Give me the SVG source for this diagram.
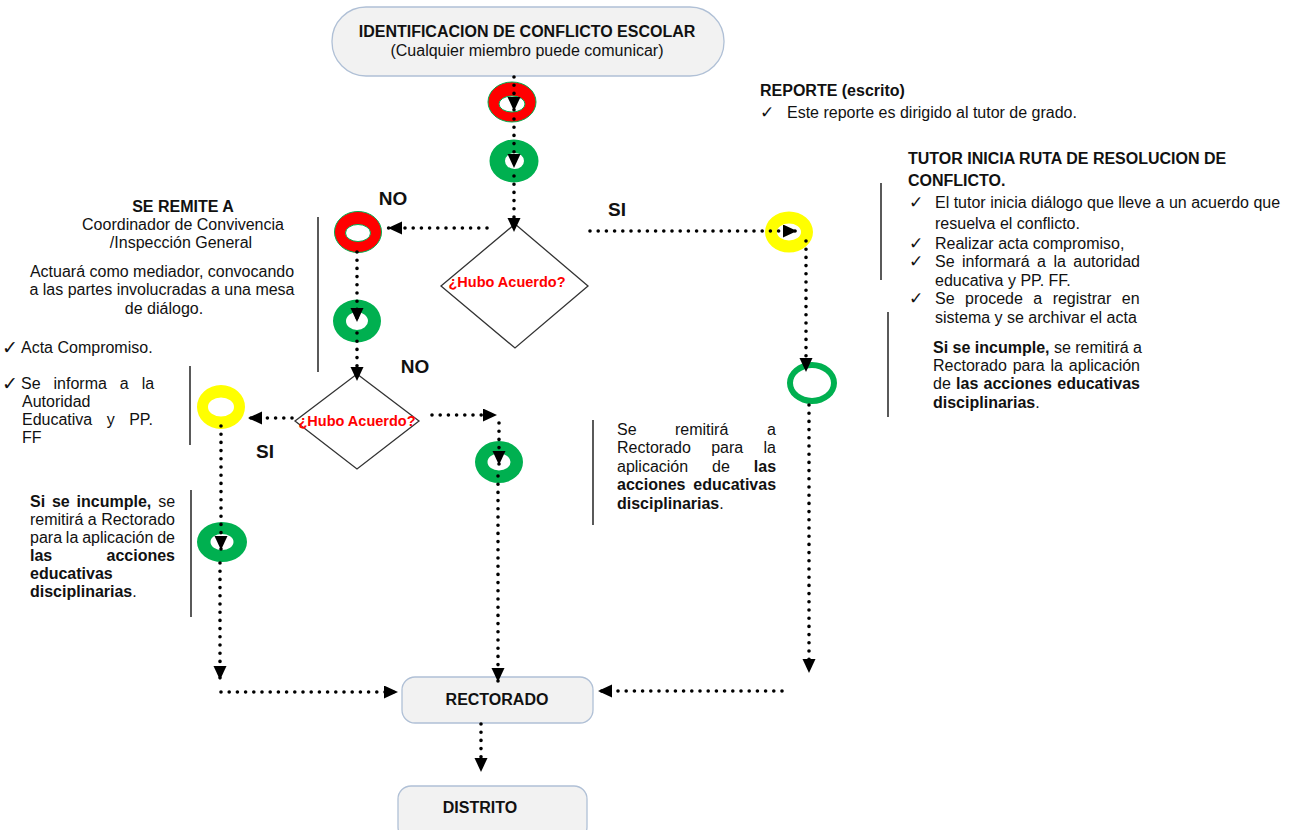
<svg xmlns="http://www.w3.org/2000/svg" width="1293" height="830" viewBox="0 0 1293 830">
<defs>
<marker id="ah" markerUnits="userSpaceOnUse" markerWidth="16" markerHeight="14" refX="14" refY="6.5" orient="auto"><path d="M0,0 L14,6.5 L0,13 Z" fill="#000"/></marker>
<style>
.dot{fill:none;stroke:#000;stroke-width:3.6;stroke-linecap:round;stroke-dasharray:0 8.2;marker-end:url(#ah)}
.box{fill:#f2f2f2;stroke:#b0c0d6;stroke-width:1.3}
.t{font-family:"Liberation Sans",Arial,sans-serif;font-size:16px;fill:#111}
.b{font-weight:bold}
.q{font-family:"Liberation Sans",Arial,sans-serif;font-size:14.5px;font-weight:bold;fill:#ff0000}
.lbl{font-family:"Liberation Sans",Arial,sans-serif;font-size:19px;font-weight:bold;fill:#111}
.dia{fill:#fff;stroke:#333;stroke-width:1.3}
.red{fill:#ff0000;stroke:#00b050;stroke-width:1;fill-rule:evenodd}
.grn{fill:#00b050;fill-rule:evenodd}
.yel{fill:#ffff00;fill-rule:evenodd}
.vl{stroke:#000;stroke-width:1.3}
.ck{font-family:"DejaVu Sans",sans-serif;font-size:17px;fill:#111}
.ck2{font-family:"DejaVu Sans",sans-serif;font-size:19px;fill:#111}
</style>
</defs>
<rect width="1293" height="830" fill="#fff"/>

<g id="n-inicio">
<rect class="box" x="332" y="7" width="392" height="69" rx="34"/>
<text class="t b" x="527" y="37" text-anchor="middle">IDENTIFICACION DE CONFLICTO ESCOLAR</text>
<text class="t" x="527" y="56" text-anchor="middle">(Cualquier miembro puede comunicar)</text>
</g>

<g id="n-ring1"><path class="red" d="M488,102 a24,20 0 1,0 48,0 a24,20 0 1,0 -48,0 Z M499,104 a13,8 0 1,0 26,0 a13,8 0 1,0 -26,0 Z"/></g>
<g id="n-ring2"><path class="grn" d="M489.5,161 a24.5,21.5 0 1,0 49,0 a24.5,21.5 0 1,0 -49,0 Z M505,161 a9.5,8 0 1,0 19,0 a9.5,8 0 1,0 -19,0 Z"/></g>

<g id="n-dec1">
<polygon class="dia" points="515,224 588,286 515,348 441,286"/>
<text class="q" x="507" y="287" text-anchor="middle">¿Hubo Acuerdo?</text>
</g>

<g id="n-ring3"><path class="red" d="M334.5,232 a23.5,20.5 0 1,0 47,0 a23.5,20.5 0 1,0 -47,0 Z M345.5,233 a12.5,8.5 0 1,0 25,0 a12.5,8.5 0 1,0 -25,0 Z"/></g>
<g id="n-ring4"><path class="grn" d="M333,321 a24,21.5 0 1,0 48,0 a24,21.5 0 1,0 -48,0 Z M346,321 a11,9 0 1,0 22,0 a11,9 0 1,0 -22,0 Z"/></g>

<g id="n-dec2">
<polygon class="dia" points="357,374 419,421 357,469 295,421"/>
<text class="q" x="357" y="426" text-anchor="middle">¿Hubo Acuerdo?</text>
</g>

<g id="n-ring5"><path class="yel" d="M197,407 a24,22 0 1,0 48,0 a24,22 0 1,0 -48,0 Z M208,407 a13,9.5 0 1,0 26,0 a13,9.5 0 1,0 -26,0 Z"/></g>
<g id="n-ring6"><path class="grn" d="M197,542 a25,20 0 1,0 50,0 a25,20 0 1,0 -50,0 Z M210.5,542 a11.5,8 0 1,0 23,0 a11.5,8 0 1,0 -23,0 Z"/></g>
<g id="n-ring7"><path class="grn" d="M475,462 a24,21 0 1,0 48,0 a24,21 0 1,0 -48,0 Z M487.5,462 a11.5,8.5 0 1,0 23,0 a11.5,8.5 0 1,0 -23,0 Z"/></g>
<g id="n-ring8"><path class="yel" d="M765,232 a24,20.5 0 1,0 48,0 a24,20.5 0 1,0 -48,0 Z M777,232 a12,8.5 0 1,0 24,0 a12,8.5 0 1,0 -24,0 Z"/></g>
<g id="n-ring9"><path class="grn" d="M787,383 a25,21 0 1,0 50,0 a25,21 0 1,0 -50,0 Z M793,383 a19,15 0 1,0 38,0 a19,15 0 1,0 -38,0 Z"/></g>

<g id="n-rectorado">
<rect class="box" x="402" y="677" width="191" height="46" rx="13"/>
<text class="t b" x="497" y="705" text-anchor="middle">RECTORADO</text>
</g>
<g id="n-distrito">
<rect class="box" x="398" y="786" width="189" height="54" rx="13"/>
<text class="t b" x="480" y="813" text-anchor="middle">DISTRITO</text>
</g>

<g id="connectors">
<path class="dot" d="M514,77 V111"/>
<path class="dot" d="M514,119 V168"/>
<path class="dot" d="M514,176 V232"/>
<path class="dot" d="M487,228 H388"/>
<path class="dot" d="M357,252 V322"/>
<path class="dot" d="M357,333 V381"/>
<path class="dot" d="M292,418 H248"/>
<path class="dot" d="M221,426 V550"/>
<path class="dot" d="M220,563 V680"/>
<path class="dot" d="M221,692 H398"/>
<path class="dot" d="M432,415 H497"/>
<path class="dot" d="M499,423 V465"/>
<path class="dot" d="M498,476 V682"/>
<path class="dot" d="M590,231 H797"/>
<path class="dot" d="M806,241 V372"/>
<path class="dot" d="M809,405 V673"/>
<path class="dot" d="M782,691 H598"/>
<path class="dot" d="M481,724 V772"/>
</g>

<g id="labels">
<text class="lbl" x="393" y="205" text-anchor="middle">NO</text>
<text class="lbl" x="617" y="216" text-anchor="middle">SI</text>
<text class="lbl" x="415" y="373" text-anchor="middle">NO</text>
<text class="lbl" x="265" y="458" text-anchor="middle">SI</text>
</g>

<g id="dividers">
<line class="vl" x1="318" y1="217" x2="318" y2="372"/>
<line class="vl" x1="190" y1="366" x2="190" y2="445"/>
<line class="vl" x1="191" y1="490" x2="191" y2="617"/>
<line class="vl" x1="593" y1="420" x2="593" y2="525"/>
<line class="vl" x1="881" y1="183" x2="881" y2="280"/>
<line class="vl" x1="888" y1="312" x2="888" y2="417"/>
</g>

<g id="txt-reporte">
<text class="t b" x="760" y="96">REPORTE (escrito)</text>
<text class="ck" x="760" y="118">✓</text>
<text class="t" x="787" y="118">Este reporte es dirigido al tutor de grado.</text>
</g>

<g id="txt-tutor">
<text class="t b" x="908" y="164">TUTOR INICIA RUTA DE RESOLUCION DE</text>
<text class="t b" x="908" y="186">CONFLICTO.</text>
<text class="ck" x="909" y="208">✓</text>
<text class="t" x="935" y="208">El tutor inicia diálogo que lleve a un acuerdo que</text>
<text class="t" x="935" y="229">resuelva el conflicto.</text>
<text class="ck" x="909" y="249">✓</text>
<text class="t" x="935" y="249">Realizar acta compromiso,</text>
<text class="ck" x="909" y="267">✓</text>
<text class="t" x="935" y="267" word-spacing="3">Se informará a la autoridad</text>
<text class="t" x="935" y="286">educativa y PP. FF.</text>
<text class="ck" x="909" y="304">✓</text>
<text class="t" x="935" y="304" word-spacing="6">Se procede a registrar en</text>
<text class="t" x="935" y="323">sistema y se archivar el acta</text>
<text class="t" x="933" y="353"><tspan class="b">Si se incumple,</tspan> se remitirá a</text>
<text class="t" x="933" y="371" word-spacing="1.4">Rectorado para la aplicación</text>
<text class="t" x="933" y="389" word-spacing="0.8">de <tspan class="b">las acciones educativas</tspan></text>
<text class="t" x="933" y="408"><tspan class="b">disciplinarias</tspan>.</text>
</g>

<g id="txt-remite">
<text class="t b" x="183" y="212" text-anchor="middle">SE REMITE A</text>
<text class="t" x="183" y="230" text-anchor="middle">Coordinador de Convivencia</text>
<text class="t" x="181" y="248" text-anchor="middle">/Inspección General</text>
<text class="t" x="162" y="277" text-anchor="middle">Actuará como mediador, convocando</text>
<text class="t" x="162" y="295" text-anchor="middle">a las partes involucradas a una mesa</text>
<text class="t" x="164" y="314" text-anchor="middle">de diálogo.</text>
<text class="ck2" x="2" y="354">✓</text>
<text class="t" x="21" y="353">Acta Compromiso.</text>
<text class="ck2" x="2" y="390">✓</text>
<text class="t" x="21" y="389" word-spacing="8.5">Se informa a la</text>
<text class="t" x="22" y="407">Autoridad</text>
<text class="t" x="22" y="425" word-spacing="10">Educativa y PP.</text>
<text class="t" x="22" y="443">FF</text>
</g>

<g id="txt-incumple-izq">
<text class="t" x="30" y="507" word-spacing="2.4"><tspan class="b">Si se incumple,</tspan> se</text>
<text class="t" x="30" y="525">remitirá a Rectorado</text>
<text class="t" x="30" y="543" word-spacing="-0.6">para la aplicación de</text>
<text class="t b" x="30" y="561">las</text>
<text class="t b" x="175" y="561" text-anchor="end">acciones</text>
<text class="t b" x="30" y="579">educativas</text>
<text class="t" x="30" y="597"><tspan class="b">disciplinarias</tspan>.</text>
</g>

<g id="txt-remitira-centro">
<text class="t" x="617" y="435">Se</text>
<text class="t" x="675" y="435">remitirá</text>
<text class="t" x="776" y="435" text-anchor="end">a</text>
<text class="t" x="617" y="453" word-spacing="15.9">Rectorado para la</text>
<text class="t" x="617" y="472" word-spacing="19.5">aplicación de <tspan class="b">las</tspan></text>
<text class="t b" x="617" y="490" word-spacing="3.4">acciones educativas</text>
<text class="t" x="617" y="509"><tspan class="b">disciplinarias</tspan>.</text>
</g>
</svg>
